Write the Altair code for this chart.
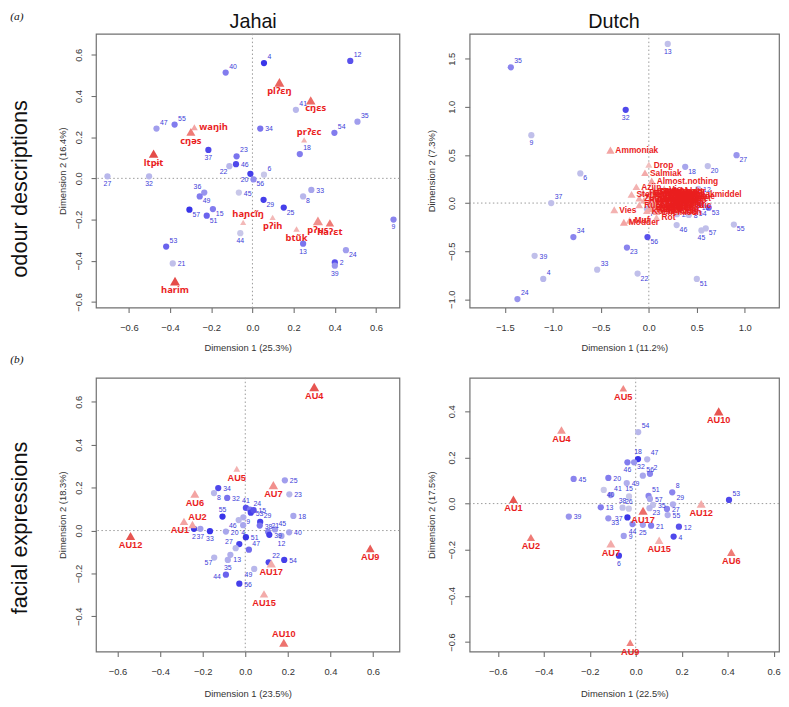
import altair as alt
import pandas as pd

# ---------------- data ----------------
# (a) Jahai, odour descriptions: participants
JO_ID = [4, 12, 40, 41, 35, 54, 47, 55, 34, 37, 23, 46, 22, 18, 6, 20, 56, 27, 32, 36, 49, 45, 33, 8, 29, 25, 57, 15, 51, 9, 44, 13, 24, 53, 21, 2, 39]
JO_X = [0.056, 0.475, -0.13, 0.211, 0.51, 0.398, -0.466, -0.378, 0.038, -0.214, -0.077, -0.08, -0.112, 0.23, 0.056, -0.01, 0.005, -0.704, -0.502, -0.234, -0.256, -0.066, 0.286, 0.246, 0.054, 0.152, -0.306, -0.192, -0.222, 0.685, -0.059, 0.246, 0.454, -0.419, -0.387, 0.4, 0.4]
JO_Y = [0.56, 0.57, 0.514, 0.333, 0.275, 0.221, 0.242, 0.261, 0.242, 0.138, 0.107, 0.069, 0.059, 0.118, 0.018, 0.022, -0.005, 0.01, 0.01, -0.069, -0.088, -0.069, -0.056, -0.088, -0.104, -0.142, -0.152, -0.149, -0.181, -0.2, -0.266, -0.317, -0.349, -0.331, -0.413, -0.408, -0.424]
JO_C = [0.95, 0.8, 0.55, 0.2, 0.35, 0.55, 0.35, 0.55, 0.6, 0.85, 0.6, 0.85, 0.2, 0.55, 0.1, 0.9, 0.45, 0.2, 0.2, 0.4, 0.55, 0.1, 0.3, 0.2, 0.9, 0.9, 0.95, 0.55, 0.7, 0.5, 0.1, 0.6, 0.35, 0.7, 0.15, 0.8, 0.4]
JO_LABEL_POS = ["ur", "ur", "ur", "ur", "ur", "ur", "ur", "ur", "r", "b", "ur", "r", "bl", "ur", "ur", "bl", "br", "b", "b", "ul", "br", "r", "r", "br", "br", "br", "br", "br", "br", "b", "b", "b", "br", "ur", "r", "r", "b"]
# (a) Jahai odour terms
JO_TERM = ["pl\u0294\u025b\u014b", "c\u014b\u025bs", "wa\u014bih", "c\u014b\u0259s", "pr\u0294\u025bc", "ltp\u0268t", "ha\u0272c\u0129\u014b", "p\u0294ih", "bt\u0169k", "p\u0294us", "ha\u0294\u025bt", "harim"]
JO_TX = [0.131, 0.283, -0.282, -0.299, 0.251, -0.48, -0.045, 0.098, 0.214, 0.318, 0.376, -0.376]
JO_TY = [0.466, 0.379, 0.248, 0.226, 0.187, 0.12, -0.214, -0.189, -0.246, -0.206, -0.216, -0.499]
JO_TC = [0.75, 0.7, 0.3, 0.6, 0.2, 0.9, 0.15, 0.15, 0.2, 0.45, 0.6, 0.9]
JO_TM = [0.9, 0.8, 0.3, 0.7, 0.2, 0.8, 0.2, 0.2, 0.25, 0.95, 0.6, 0.9]
JO_TERM_POS = ["b", "br", "r", "b", "ur", "b", "ur", "b", "b", "b", "b", "b"]

# (a) Dutch, odour descriptions: participants
DO_ID = [13, 35, 32, 9, 6, 18, 20, 27, 37, 53, 46, 45, 57, 55, 34, 56, 23, 39, 33, 22, 4, 51, 24, 36, 19, 54, 7, 2, 8, 12]
DO_X = [0.197, -1.438, -0.241, -1.224, -0.714, 0.379, 0.614, 0.914, -1.017, 0.624, 0.29, 0.548, 0.593, 0.886, -0.786, -0.014, -0.228, -1.19, -0.538, -0.117, -1.1, 0.5, -1.369, 0.47, 0.52, 0.49, -0.02, 0.293, 0.417, 0.514]
DO_Y = [1.654, 1.411, 0.969, 0.705, 0.308, 0.377, 0.384, 0.497, 0.0, -0.048, -0.229, -0.284, -0.264, -0.223, -0.353, -0.353, -0.462, -0.548, -0.692, -0.733, -0.788, -0.788, -0.997, 0.03, 0.0, -0.065, -0.06, -0.116, -0.123, 0.147]
DO_C = [0.15, 0.5, 0.85, 0.15, 0.15, 0.3, 0.15, 0.4, 0.15, 0.65, 0.15, 0.15, 0.15, 0.15, 0.5, 0.8, 0.5, 0.15, 0.15, 0.15, 0.2, 0.15, 0.4, 0.3, 0.35, 0.25, 0.2, 0.15, 0.15, 0.15]
DO_LABEL_POS = ["b", "ur", "b", "b", "br", "br", "br", "br", "ur", "br", "br", "b", "br", "br", "ur", "br", "br", "r", "ur", "br", "ur", "br", "ur", "br", "br", "br", "br", "r", "r", "r"]
# (a) Dutch odour terms
DO_TERM = ["Ammoniak", "Drop", "Salmiak", "Almost.nothing", "Azijn", "Sterk", "Zuur", "Tabak", "Knoflook", "Zoet",
           "Schoonmaakmiddel", "Fris", "Vis", "Alcohol", "Bloem", "Chloor", "Citroen", "Zeep", "Zweet", "Banaan",
           "Parfum", "Mint", "Kaneel", "Fruitig", "Snoep", "Kauwgom", "Kruidig", "Rook", "Vanille", "Plastic",
           "Verf", "Rubber", "Benzine", "Hout", "Lijm", "Koffie", "Chemisch", "Kaas", "Vies", "Modder",
           "Muf", "Rot", "Menthol", "Spiritus", "Bleek", "Appel", "Aardbei", "Peper", "Thee", "Kruiden",
           "Gras", "Hooi", "Aarde", "Stof", "Oud", "Nat", "Zout", "Bitter", "Prikkelend", "Medicijn",
           "Ziekenhuis", "Tandpasta", "Wijn", "Honing", "Karamel", "Chocolade"]
DO_TX = [-0.40, 0.00, -0.04, 0.03, -0.13, -0.18, -0.10, -0.06, 0.00, 0.05,
         0.09, 0.12, 0.16, 0.14, 0.20, 0.26, 0.25, 0.31, 0.35, 0.22,
         0.12, 0.04, 0.18, 0.08, 0.28, 0.03, 0.22, -0.05, 0.13, 0.32,
         0.18, -0.10, 0.02, 0.20, 0.10, -0.02, 0.08, 0.25, -0.36, -0.26,
         -0.20, 0.08, 0.06, 0.15, 0.23, 0.11, 0.17, 0.27, 0.01, 0.09,
         0.19, 0.29, 0.05, 0.14, 0.24, 0.03, 0.16, 0.21, 0.07, 0.12,
         0.02, 0.10, 0.26, 0.15, 0.06, 0.19]
DO_TY = [0.55, 0.40, 0.315, 0.23, 0.17, 0.09, 0.05, 0.11, 0.08, 0.13,
         0.09, 0.11, 0.15, 0.12, 0.10, 0.12, 0.07, 0.09, 0.05, 0.05,
         0.05, 0.06, 0.03, 0.02, 0.03, 0.01, 0.00, 0.03, -0.02, -0.02,
         -0.03, -0.02, -0.04, -0.05, -0.06, -0.08, -0.09, -0.08, -0.07, -0.20,
         -0.18, -0.15, 0.04, 0.08, 0.10, 0.00, -0.01, 0.06, 0.10, 0.07,
         0.12, 0.01, -0.02, 0.02, -0.04, -0.06, 0.05, 0.03, 0.11, -0.05,
         0.04, 0.13, 0.09, -0.07, -0.04, 0.07]
DO_TC = [0.3, 0.1, 0.25, 0.3, 0.2, 0.2, 0.25, 0.2, 0.25, 0.3,
         0.35, 0.3, 0.25, 0.3, 0.3, 0.3, 0.3, 0.3, 0.3, 0.3,
         0.35, 0.3, 0.3, 0.3, 0.3, 0.3, 0.3, 0.25, 0.3, 0.3,
         0.3, 0.25, 0.3, 0.3, 0.3, 0.25, 0.3, 0.3, 0.2, 0.3,
         0.25, 0.15, 0.3, 0.3, 0.3, 0.3, 0.3, 0.3, 0.3, 0.3,
         0.3, 0.3, 0.3, 0.3, 0.3, 0.3, 0.3, 0.3, 0.3, 0.3,
         0.3, 0.3, 0.3, 0.3, 0.3, 0.3]
DO_TM = [0.55, 0.35, 0.45, 0.5, 0.45, 0.5, 0.45, 0.4, 0.5, 0.5,
         0.5, 0.5, 0.45, 0.5, 0.5, 0.5, 0.5, 0.5, 0.5, 0.45,
         0.5, 0.45, 0.5, 0.5, 0.45, 0.45, 0.5, 0.45, 0.45, 0.45,
         0.45, 0.45, 0.45, 0.45, 0.45, 0.45, 0.45, 0.45, 0.5, 0.5,
         0.5, 0.45, 0.45, 0.45, 0.45, 0.45, 0.45, 0.45, 0.45, 0.45,
         0.45, 0.45, 0.45, 0.45, 0.45, 0.45, 0.45, 0.45, 0.45, 0.45,
         0.45, 0.45, 0.45, 0.45, 0.45, 0.45]

# (b) Jahai, facial expressions: participants
JF_ID = [25, 23, 34, 8, 32, 41, 24, 53, 15, 55, 18, 29, 38, 9, 46, 4, 51, 21, 45, 39, 40, 12, 2, 37, 33, 20, 6, 47, 27, 13, 57, 35, 22, 54, 49, 44, 56]
JF_X = [0.186, 0.207, -0.127, -0.147, -0.085, 0.003, 0.022, 0.026, 0.039, -0.107, 0.226, 0.07, 0.068, -0.009, -0.031, -0.01, 0.003, 0.107, 0.14, 0.113, 0.206, 0.17, -0.241, -0.211, -0.166, -0.091, -0.028, 0.017, -0.045, -0.07, -0.146, -0.082, 0.11, 0.183, 0.042, -0.091, -0.028]
JF_Y = [0.234, 0.169, 0.198, 0.175, 0.152, 0.106, 0.098, 0.083, 0.095, 0.065, 0.068, 0.04, 0.023, 0.062, 0.049, 0.025, -0.031, -0.006, 0.005, -0.02, -0.008, -0.025, 0.008, 0.008, -0.003, -0.005, -0.063, -0.089, -0.082, -0.113, -0.126, -0.137, -0.148, -0.137, -0.179, -0.206, -0.248]
JF_C = [0.35, 0.2, 0.85, 0.2, 0.6, 0.8, 0.6, 0.9, 0.8, 0.95, 0.3, 0.9, 0.6, 0.25, 0.2, 0.3, 0.95, 0.5, 0.35, 0.9, 0.3, 0.3, 0.95, 0.35, 0.95, 0.3, 0.9, 0.65, 0.2, 0.25, 0.2, 0.25, 0.85, 0.9, 0.2, 0.7, 0.9]
JF_LABEL_POS = ["r", "r", "r", "br", "r", "u", "ur", "r", "r", "u", "r", "ur", "r", "br", "bl", "b", "r", "ur", "ur", "r", "r", "b", "b", "b", "b", "r", "ur", "ur", "ul", "br", "bl", "b", "ur", "r", "bl", "l", "r"]
# (b) Jahai action units
JF_TERM = ["AU4", "AU5", "AU7", "AU6", "AU2", "AU1", "AU12", "AU9", "AU17", "AU15", "AU10"]
JF_TX = [0.324, -0.04, 0.132, -0.237, -0.248, -0.288, -0.539, 0.587, 0.122, 0.088, 0.181]
JF_TY = [0.669, 0.288, 0.212, 0.171, 0.028, 0.043, -0.025, -0.083, -0.154, -0.295, -0.523]
JF_TC = [0.85, 0.2, 0.45, 0.3, 0.3, 0.3, 0.85, 0.8, 0.25, 0.25, 0.65]
JF_TM = [0.9, 0.3, 0.8, 0.7, 0.6, 0.6, 0.75, 0.65, 0.75, 0.6, 0.75]
JF_TERM_POS = ["b", "b", "b", "b", "ur", "bl", "b", "b", "b", "b", "u"]

# (b) Dutch, facial expressions: participants
DF_ID = [54, 18, 47, 46, 32, 56, 2, 45, 20, 49, 41, 40, 15, 51, 57, 8, 29, 13, 39, 38, 26, 37, 35, 23, 27, 55, 33, 44, 25, 21, 12, 9, 4, 53, 6]
DF_X = [0.011, 0.01, 0.05, -0.036, -0.007, 0.031, 0.062, -0.27, -0.119, -0.039, -0.109, -0.139, -0.029, 0.056, 0.062, 0.159, 0.162, -0.152, -0.291, -0.057, -0.03, -0.036, 0.075, 0.06, 0.136, 0.139, -0.119, -0.014, 0.031, 0.067, 0.188, -0.052, 0.165, 0.406, -0.073]
DF_Y = [0.31, 0.193, 0.192, 0.179, 0.179, 0.121, 0.129, 0.107, 0.111, 0.089, 0.037, 0.059, 0.031, 0.033, 0.02, 0.049, -0.003, -0.016, -0.056, -0.018, -0.022, -0.06, -0.006, -0.02, -0.023, -0.05, -0.064, -0.089, -0.092, -0.096, -0.1, -0.14, -0.143, 0.016, -0.226]
DF_C = [0.2, 0.95, 0.2, 0.55, 0.4, 0.3, 0.5, 0.5, 0.55, 0.25, 0.4, 0.1, 0.1, 0.5, 0.3, 0.5, 0.25, 0.55, 0.4, 0.15, 0.1, 0.95, 0.15, 0.2, 0.5, 0.25, 0.4, 0.5, 0.35, 0.55, 0.8, 0.35, 0.85, 0.85, 0.9]
DF_LABEL_POS = ["ur", "u", "ur", "b", "br", "ur", "ur", "r", "r", "r", "ur", "br", "u", "ur", "r", "ur", "ur", "r", "r", "u", "u", "l", "r", "br", "r", "r", "br", "b", "b", "r", "r", "r", "r", "ur", "b"]
# (b) Dutch action units
DF_TERM = ["AU5", "AU10", "AU4", "AU1", "AU12", "AU17", "AU2", "AU15", "AU7", "AU6", "AU9"]
DF_TX = [-0.054, 0.361, -0.323, -0.532, 0.285, 0.032, -0.456, 0.102, -0.108, 0.416, -0.024]
DF_TY = [0.5, 0.4, 0.319, 0.019, -0.001, -0.031, -0.147, -0.159, -0.174, -0.211, -0.603]
DF_TC = [0.5, 0.85, 0.4, 0.85, 0.25, 0.7, 0.6, 0.2, 0.25, 0.6, 0.55]
DF_TM = [0.45, 0.8, 0.65, 0.6, 0.7, 0.75, 0.55, 0.6, 0.7, 0.6, 0.45]
DF_TERM_POS = ["b", "b", "b", "b", "b", "b", "b", "b", "b", "b", "b"]

ZERO = [0.0]

# ---------------- style ----------------
FONT = "Liberation Sans"
GRAY = "#707070"
C_LIGHT, C_DARK = "#d8d8e6", "#2b2be8"
T_LIGHT, T_DARK = "#f1cdcd", "#e03a3a"
BLUE_TXT = "#3c3cd8"
RED_TXT = "#ea1e1e"

PT_OFF = {"ur": (3.5, -6, "left"), "r": (5, 1, "left"), "br": (3, 5, "left"),
          "b": (0, 8, "center"), "bl": (-2, 6, "right"), "ul": (-3, -6, "right"),
          "l": (-5, 2, "right"), "u": (0, -7, "center")}
TR_OFF = {"b": (0, 9, "center"), "bl": (-4, 9, "center"), "br": (5, 8, "center"),
          "u": (0, -9, "center"), "ur": (5, -8, "center"), "r": (5, 0, "left")}


def panel(ids, xs, ys, cs, pps, terms, txs, tys, tcs, tms, tps,
          xdom, ydom, xticks, yticks, xtitle, ytitle, w, h,
          tfont, tfs, ytpad, xtpad, extras):
    circ = pd.DataFrame({"lab": [str(i) for i in ids], "x": xs, "y": ys, "c": cs, "pos": pps})
    tri = pd.DataFrame({"lab": terms, "x": txs, "y": tys, "c": tcs, "m": tms, "pos": tps})
    xsc = alt.Scale(domain=xdom, nice=False, zero=False)
    ysc = alt.Scale(domain=ydom, nice=False, zero=False)
    xax = alt.Axis(values=xticks, format=".1f", title=xtitle, titlePadding=xtpad)
    yax = alt.Axis(values=yticks, format=".1f", title=ytitle, titlePadding=ytpad)

    def X(f="x"):
        return alt.X(f + ":Q", scale=xsc, axis=xax)

    def Y(f="y"):
        return alt.Y(f + ":Q", scale=ysc, axis=yax)

    zdf = pd.DataFrame({"z": ZERO})
    layers = [
        alt.Chart(zdf).mark_rule(color="#9a9a9a", strokeDash=[1.5, 2.5], strokeWidth=1).encode(x=X("z")),
        alt.Chart(zdf).mark_rule(color="#9a9a9a", strokeDash=[1.5, 2.5], strokeWidth=1).encode(y=Y("z")),
        alt.Chart(circ).mark_circle(size=40, opacity=1).encode(
            x=X(), y=Y(),
            color=alt.Color("c:Q", scale=alt.Scale(domain=[0, 1], range=[C_LIGHT, C_DARK]), legend=None)),
    ]
    for code, (dx, dy, al) in PT_OFF.items():
        sub = circ[circ["pos"] == code]
        if len(sub):
            layers.append(alt.Chart(sub).mark_text(dx=dx, dy=dy, align=al, baseline="middle", font=FONT,
                                                   fontSize=7, color=BLUE_TXT).encode(x=X(), y=Y(), text="lab:N"))
    layers.append(alt.Chart(tri).mark_point(shape="triangle-up", filled=True, opacity=1).encode(
        x=X(), y=Y(),
        fill=alt.Fill("c:Q", scale=alt.Scale(domain=[0, 1], range=[T_LIGHT, T_DARK]), legend=None),
        size=alt.Size("m:Q", scale=alt.Scale(domain=[0, 1], range=[20, 110]), legend=None)))
    for code, (dx, dy, al) in TR_OFF.items():
        sub = tri[tri["pos"] == code]
        if len(sub):
            layers.append(alt.Chart(sub).mark_text(dx=dx, dy=dy, align=al, baseline="middle", font=tfont,
                                                   fontSize=tfs, fontWeight="bold", color=RED_TXT).encode(
                x=X(), y=Y(), text="lab:N"))
    for (t, px, py, ang, fs, fnt, sty) in extras:
        layers.append(alt.Chart(pd.DataFrame({"t": [t]})).mark_text(
            angle=ang, fontSize=fs, font=fnt, fontStyle=sty, align="center",
            baseline="alphabetic" if ang == 0 else "middle", color="#111").encode(
            x=alt.value(px), y=alt.value(py), text="t:N"))
    return alt.layer(*layers).properties(width=w, height=h)


W1, W2, H = 307, 313, 277
p1 = panel(JO_ID, JO_X, JO_Y, JO_C, JO_LABEL_POS, JO_TERM, JO_TX, JO_TY, JO_TC, JO_TM, JO_TERM_POS,
           [-0.7598, 0.7138], [-0.6274, 0.7022], [-0.6, -0.4, -0.2, 0, 0.2, 0.4, 0.6],
           [-0.6, -0.4, -0.2, 0, 0.2, 0.4, 0.6], "Dimension 1 (25.3%)", "Dimension 2 (16.4%)", W1, H,
           "Noto Sans", 9.5, 6, 10.5,
           [("(a)", -80, -14, 0, 11.5, "Liberation Serif", "italic"),
            ("Jahai", 159, -6, 0, 20, FONT, "normal"),
            ("odour descriptions", -77, 157, 270, 22, FONT, "normal")])
p2 = panel(DO_ID, DO_X, DO_Y, DO_C, DO_LABEL_POS, DO_TERM, DO_TX, DO_TY, DO_TC, DO_TM, ["r"] * len(DO_TERM),
           [-1.867, 1.3565], [-1.0857, 1.7594], [-1.5, -1.0, -0.5, 0, 0.5, 1.0],
           [-1.0, -0.5, 0, 0.5, 1.0, 1.5], "Dimension 1 (11.2%)", "Dimension 2 (7.3%)", W2, H,
           FONT, 8.5, 11, 10.5,
           [("Dutch", 146, -6, 0, 20, FONT, "normal")])
p3 = panel(JF_ID, JF_X, JF_Y, JF_C, JF_LABEL_POS, JF_TERM, JF_TX, JF_TY, JF_TC, JF_TM, JF_TERM_POS,
           [-0.7015, 0.7244], [-0.5641, 0.7124], [-0.6, -0.4, -0.2, 0, 0.2, 0.4, 0.6],
           [-0.4, -0.2, 0, 0.2, 0.4, 0.6], "Dimension 1 (23.5%)", "Dimension 2 (18.3%)", W1, H,
           FONT, 9.3, 6, 13,
           [("(b)", -80, -15, 0, 11.5, "Liberation Serif", "italic"),
            ("facial expressions", -77, 152, 270, 22, FONT, "normal")])
p4 = panel(DF_ID, DF_X, DF_Y, DF_C, DF_LABEL_POS, DF_TERM, DF_TX, DF_TY, DF_TC, DF_TM, DF_TERM_POS,
           [-0.7226, 0.6236], [-0.6416, 0.5457], [-0.6, -0.4, -0.2, 0, 0.2, 0.4, 0.6],
           [-0.6, -0.4, -0.2, 0, 0.2, 0.4], "Dimension 1 (22.5%)", "Dimension 2 (17.5%)", W2, H,
           FONT, 9.3, 11, 13, [])

chart = alt.concat(p1, p2, p3, p4, columns=2, spacing=71, bounds="flush", align="each").resolve_scale(
    x="independent", y="independent").properties(
    padding={"left": 0, "top": -2, "right": 0, "bottom": 0}, background="white"
).configure_view(stroke=GRAY, strokeWidth=1.2).configure_axis(
    grid=False, domain=False, tickColor=GRAY, tickWidth=1.1, tickSize=5,
    labelFont=FONT, labelFontSize=9.5, labelColor="#333", labelOverlap=False, labelFlush=False,
    titleFont=FONT, titleFontSize=9.5, titleFontWeight="normal", titleColor="#333"
).configure_axisX(labelPadding=10).configure_axisY(
    labelPadding=8, labelAngle=270, labelAlign="center", labelBaseline="bottom")

chart.save("out.html", embed_options={"renderer": "svg", "actions": False})
